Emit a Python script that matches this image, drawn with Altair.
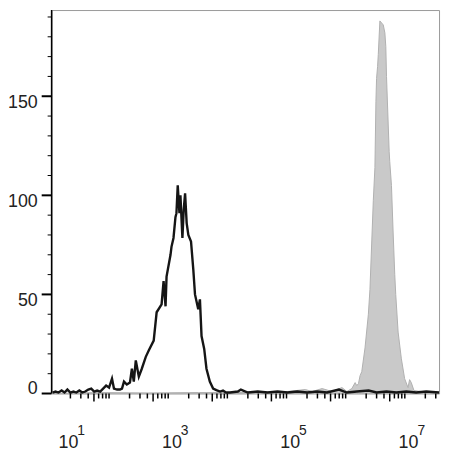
import altair as alt
import pandas as pd

# ---- data ----
black_x = [10, 11.2, 12.6, 14.2, 15.9, 17.8, 20.0, 22.5, 25.2, 28.3, 31.8, 35.7, 40.1, 45.0,
           50.5, 56.7, 63.7, 71.5, 80.3, 90.1, 101, 109, 123, 138, 149, 161, 180, 203, 219,
           236, 255, 287, 322, 376, 422, 512, 574, 696, 752, 812, 844, 985, 1023, 1106, 1194,
           1241, 1305, 1394, 1449, 1565, 1645, 1737, 1847, 1972, 2188, 2392, 2554, 2899, 3095,
           3295, 3656, 3993, 4548, 5171, 5877, 6777, 7605, 8535, 9960, 13550, 15230, 19950,
           29320, 43130, 63400, 93300, 137100, 201700, 296600, 436200, 693000, 944000,
           1388000, 2203000, 2998000, 4413000, 6490000, 9550000, 14000000, 20700000, 34100000]
black_y = [0.5, 1, 0.5, 1.5, 0.5, 2, 0.5, 1, 0.5, 1.5, 0.5, 1, 2, 2.5,
           1, 1.5, 1, 2.5, 4, 3, 7.5, 2.5, 2, 2, 2.5, 6, 4.5, 5.5, 12.5,
           6, 16.7, 8.5, 12.5, 18.5, 21.7, 26.7, 41, 45, 56.7, 44, 59, 70, 74, 78.5, 89,
           91, 105, 91, 100, 78.5, 92.5, 101, 86, 80, 76.7, 62.5, 50, 42.5, 47.5,
           29, 22.5, 12.5, 6, 2.5, 1.7, 1, 1.5, 0.5, 0.5, 1, 2, 0.5,
           1, 0.5, 1, 0.5, 1, 0.5, 1, 0.5, 2, 0.5,
           1, 1.5, 0.5, 1, 0.5, 1, 0.5, 1, 0.5]

gray_x = [10, 61.2, 422, 2899, 19950, 93300, 186600, 244800, 359800, 529600, 778700, 944000,
          1145000, 1301000, 1388000, 1482000, 1577000, 1684000, 1911000, 2178000, 2316000,
          2642000, 2811000, 2924000, 2998000, 3118000, 3204000, 3410000, 3890000, 4141000,
          4296000, 4414000, 4897000, 5010000, 5353000, 5715000, 6083000, 6321000, 6934000,
          7872000, 8938000, 10190000, 10840000, 11580000, 12850000, 17030000, 25040000, 34100000]
gray_y = [0, 0.5, 0.3, 0.5, 0.5, 1, 2, 1, 2.5, 1, 3, 1,
          2.5, 5.5, 4, 5, 9, 11, 23, 40, 52.5,
          97.5, 114, 147.5, 159, 165, 171, 188, 186, 182,
          175, 160, 122, 117, 105, 81, 60, 50, 31,
          17.5, 7.5, 3, 7, 5.5, 1.5, 1, 0.5, 0.5]

x_major = [10, 100, 1000, 10000, 100000, 1000000, 10000000]
x_label_at = [1000, 100000, 10000000]
x_label_exp = ["3", "5", "7"]
x_first_label_at = [10]
x_first_label_exp = ["1"]
y_major = [0, 50, 100, 150]
y_upper_labels = [50, 100, 150]
y_zero_label = [0]
y_minor = [10, 20, 30, 40, 60, 70, 80, 90, 110, 120, 130, 140, 160, 170, 180, 190]

X_DOMAIN = [9.62, 3.41e7]
Y_DOMAIN = [0, 193.5]
W, H = 391, 387

x_minor = [m * 10 ** k for k in range(1, 8) for m in range(2, 10) if m * 10 ** k <= X_DOMAIN[1]]
x_minor_short = [v for v in x_minor if str(int(v))[0] != "5"]
x_minor_mid = [v for v in x_minor if str(int(v))[0] == "5"]

xs = alt.Scale(type="log", domain=X_DOMAIN, nice=False)
ys = alt.Scale(domain=Y_DOMAIN, nice=False, zero=False)

gray_df = pd.DataFrame({"x": gray_x, "y": gray_y})
black_df = pd.DataFrame({"x": black_x, "y": black_y})

FONT = "Liberation Sans"
TXT = "#222222"

gray = alt.Chart(gray_df).mark_area(
    fill="#c9c9c9", stroke="#b0b0b0", strokeWidth=1, interpolate="linear"
).encode(
    x=alt.X("x:Q", scale=xs, axis=alt.Axis(
        values=x_major, labels=False, tickSize=12, tickWidth=2, tickColor="black",
        domainColor="black", domainWidth=1.5, grid=False, title=None)),
    y=alt.Y("y:Q", scale=ys, stack=None, axis=None),
)

black = alt.Chart(black_df).mark_line(color="#151515", strokeWidth=2.4).encode(
    x=alt.X("x:Q", scale=xs, axis=None),
    y=alt.Y("y:Q", scale=ys, axis=None),
)

minor_short = alt.Chart(pd.DataFrame({"v": x_minor_short})).mark_rule(
    color="black", strokeWidth=1.5
).encode(x=alt.X("v:Q", scale=xs, axis=None), y=alt.value(H), y2=alt.value(H + 5))

minor_mid = alt.Chart(pd.DataFrame({"v": x_minor_mid})).mark_rule(
    color="black", strokeWidth=1.5
).encode(x=alt.X("v:Q", scale=xs, axis=None), y=alt.value(H), y2=alt.value(H + 8))

# y axis drawn with rules
y_domain_line = alt.Chart(pd.DataFrame({"v": [Y_DOMAIN[0]], "v2": [Y_DOMAIN[1]]})).mark_rule(
    color="black", strokeWidth=1.5
).encode(y=alt.Y("v:Q", scale=ys, axis=None), y2="v2:Q", x=alt.value(0))

y_major_ticks = alt.Chart(pd.DataFrame({"v": y_major})).mark_rule(
    color="black", strokeWidth=2
).encode(y=alt.Y("v:Q", scale=ys, axis=None), x=alt.value(-10), x2=alt.value(0))

y_minor_ticks = alt.Chart(pd.DataFrame({"v": y_minor})).mark_rule(
    color="black", strokeWidth=1
).encode(y=alt.Y("v:Q", scale=ys, axis=None), x=alt.value(-4), x2=alt.value(0))

def y_text(vals, dy):
    return alt.Chart(pd.DataFrame({"v": vals})).mark_text(
        font=FONT, fontSize=18, color=TXT, align="right", baseline="middle", dy=dy
    ).encode(y=alt.Y("v:Q", scale=ys, axis=None), x=alt.value(-14), text="v:Q")

lab_df = pd.DataFrame({"x": x_label_at, "e": x_label_exp})
first_df = pd.DataFrame({"x": x_first_label_at, "e": x_first_label_exp})

def base_text(df, dx):
    return alt.Chart(df).mark_text(
        text="10", font=FONT, fontSize=18, color=TXT, align="center",
        baseline="alphabetic", dx=dx
    ).encode(x=alt.X("x:Q", scale=xs, axis=None), y=alt.value(442))

def sup_text(df, dx):
    return alt.Chart(df).mark_text(
        font=FONT, fontSize=14, color=TXT, align="left", baseline="alphabetic", dx=dx
    ).encode(x=alt.X("x:Q", scale=xs, axis=None), y=alt.value(429), text="e:N")

chart = alt.layer(
    gray, black, minor_short, minor_mid, y_domain_line, y_major_ticks, y_minor_ticks,
    y_text(y_upper_labels, 7), y_text(y_zero_label, -5),
    base_text(lab_df, 1), sup_text(lab_df, 10),
    base_text(first_df, 16), sup_text(first_df, 25),
).properties(
    width=W, height=H,
    autosize=alt.AutoSizeParams(type="none"),
    padding={"left": 44, "top": 0, "right": 4, "bottom": 60},
).configure_view(stroke="#999999", strokeWidth=1)

chart.save("out.html", embed_options={"renderer": "svg", "actions": False})
